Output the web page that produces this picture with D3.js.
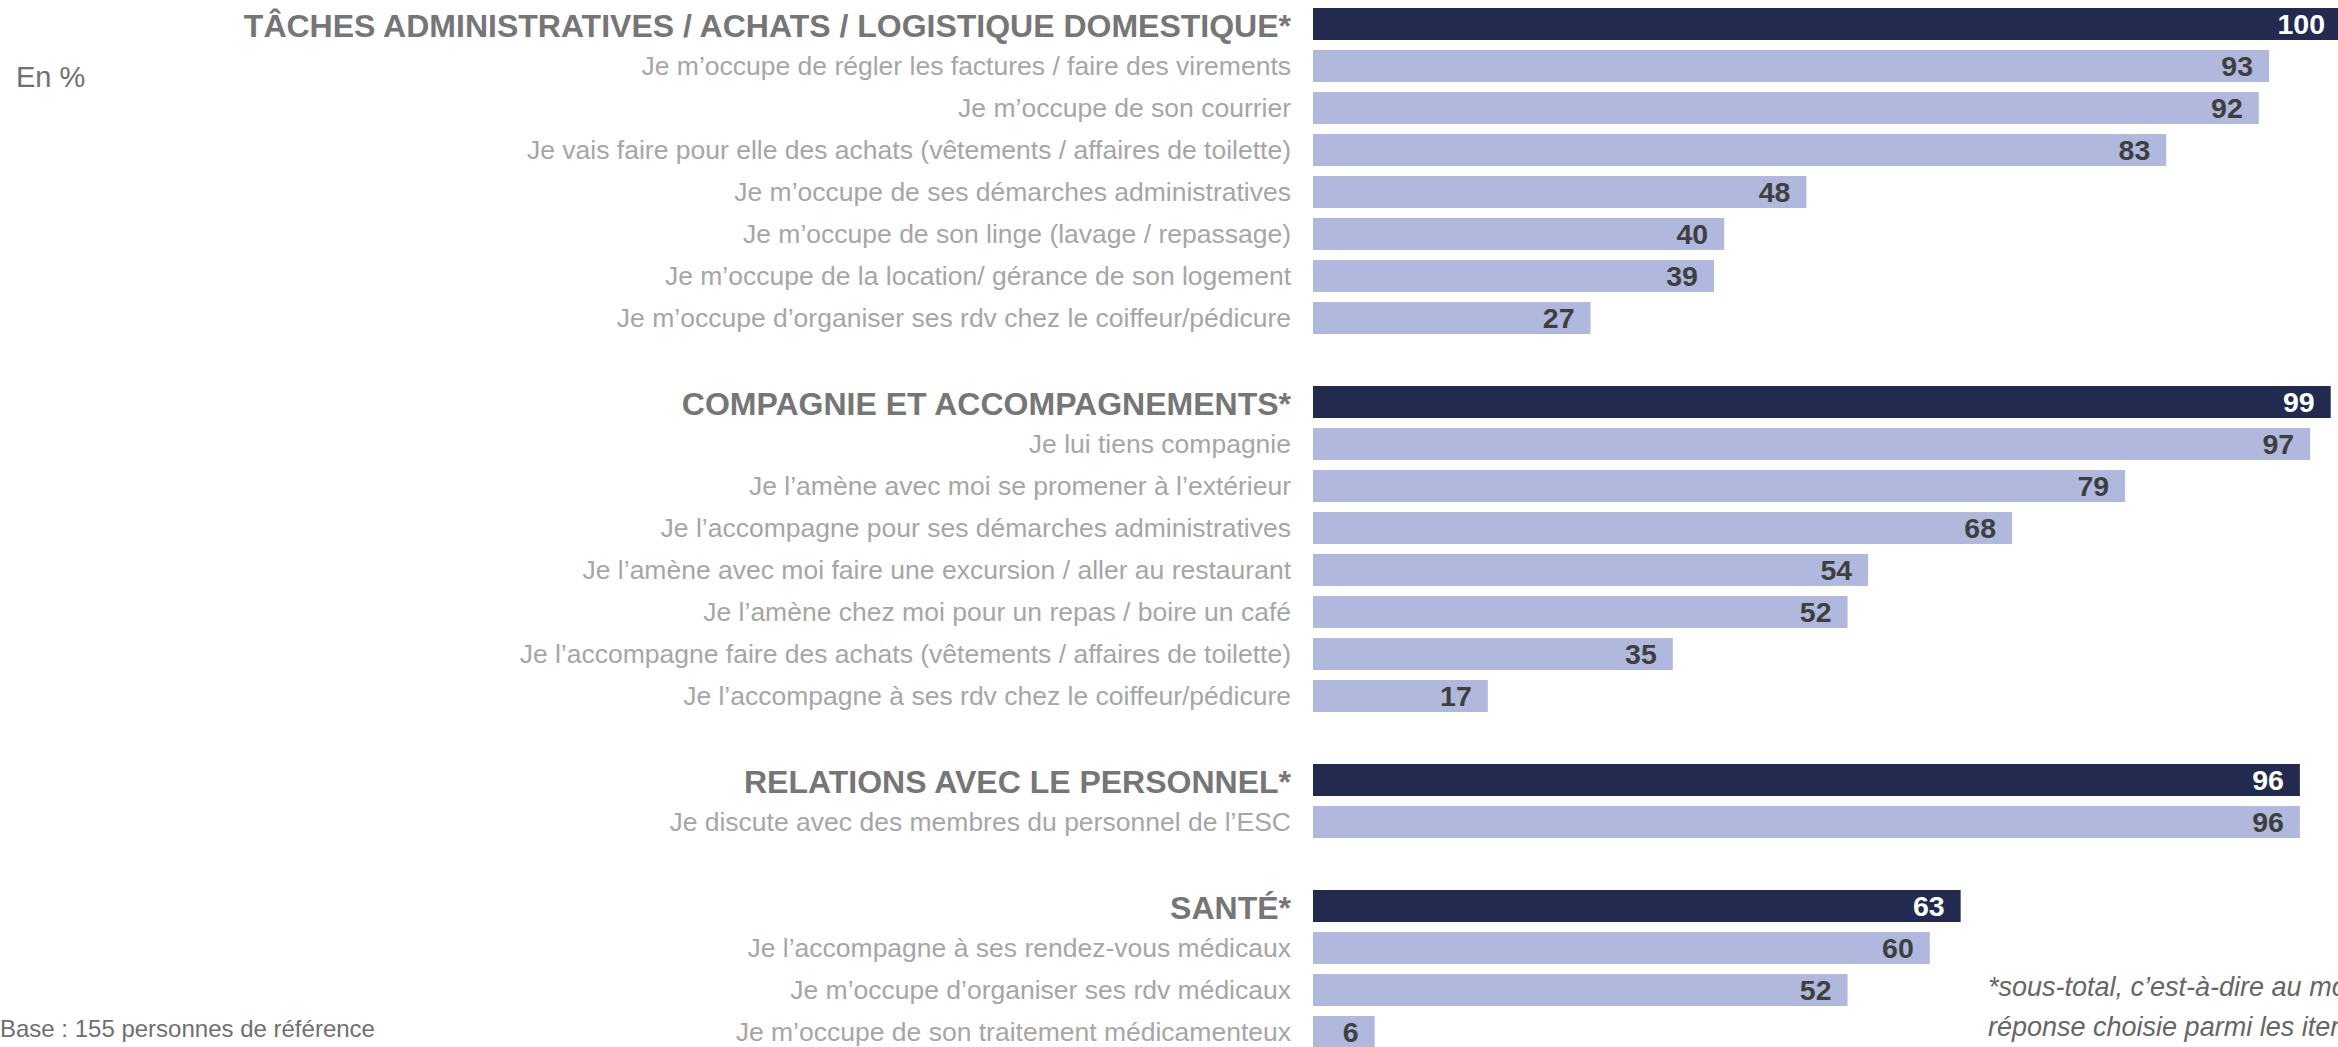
<!DOCTYPE html>
<html>
<head>
<meta charset="utf-8">
<script src="https://cdn.jsdelivr.net/npm/d3@7"></script>
<style>
  html, body { margin: 0; padding: 0; background: #fff; overflow: hidden; }
  text { font-family: "Liberation Sans", Arial, sans-serif; }
</style>
</head>
<body>
<svg id="chart"></svg>
<script>
// data
const groups = [
  "TÂCHES ADMINISTRATIVES / ACHATS / LOGISTIQUE DOMESTIQUE*",
  "COMPAGNIE ET ACCOMPAGNEMENTS*",
  "RELATIONS AVEC LE PERSONNEL*",
  "SANTÉ*"
];
const groupTotals = [100, 99, 96, 63];

const itemLabels = [
  [
    "Je m’occupe de régler les factures / faire des virements",
    "Je m’occupe de son courrier",
    "Je vais faire pour elle des achats (vêtements / affaires de toilette)",
    "Je m’occupe de ses démarches administratives",
    "Je m’occupe de son linge (lavage / repassage)",
    "Je m’occupe de la location/ gérance de son logement",
    "Je m’occupe d’organiser ses rdv chez le coiffeur/pédicure"
  ],
  [
    "Je lui tiens compagnie",
    "Je l’amène avec moi se promener à l’extérieur",
    "Je l’accompagne pour ses démarches administratives",
    "Je l’amène avec moi faire une excursion / aller au restaurant",
    "Je l’amène chez moi pour un repas / boire un café",
    "Je l’accompagne faire des achats (vêtements / affaires de toilette)",
    "Je l’accompagne à ses rdv chez le coiffeur/pédicure"
  ],
  [
    "Je discute avec des membres du personnel de l’ESC"
  ],
  [
    "Je l’accompagne à ses rendez-vous médicaux",
    "Je m’occupe d’organiser ses rdv médicaux",
    "Je m’occupe de son traitement médicamenteux"
  ]
];
const itemValues = [
  [93, 92, 83, 48, 40, 39, 27],
  [97, 79, 68, 54, 52, 35, 17],
  [96],
  [60, 52, 6]
];

const unitLabel = "En %";
const baseNote = "Base : 155 personnes de référence";
const footnote = ["*sous-total, c’est-à-dire au moins une", "réponse choisie parmi les items"];

// flatten into rows, blank row between groups
const rows = [];
groups.forEach((g, gi) => {
  if (gi > 0) rows.push({ key: "blank" + gi, blank: true });
  rows.push({ key: "g" + gi, label: g, value: groupTotals[gi], header: true });
  itemLabels[gi].forEach((l, i) => {
    rows.push({ key: "g" + gi + "i" + i, label: l, value: itemValues[gi][i], header: false });
  });
});

const width = 2338, height = 1047;
const svg = d3.select("#chart")
  .attr("width", width)
  .attr("height", height);

const x = d3.scaleLinear()
  .domain([0, 100])
  .range([1313, 2341]);

const y = d3.scaleBand()
  .domain(rows.map(d => d.key))
  .range([8, 1048])
  .paddingInner(0.238)
  .paddingOuter(0);

const data = rows.filter(d => !d.blank);

svg.selectAll(".bar")
  .data(data)
  .enter().append("rect")
  .attr("class", "bar")
  .attr("x", x(0))
  .attr("y", d => y(d.key))
  .attr("width", d => x(d.value) - x(0))
  .attr("height", y.bandwidth())
  .attr("fill", d => d.header ? "#222a50" : "#b0b8de");

svg.selectAll(".label")
  .data(data)
  .enter().append("text")
  .attr("class", "label")
  .attr("x", 1291)
  .attr("y", d => y(d.key) + y.bandwidth() / 2 + (d.header ? 2 : 0))
  .attr("dy", "0.35em")
  .attr("text-anchor", "end")
  .style("font-size", d => d.header ? "32px" : "26.5px")
  .style("font-weight", d => d.header ? "bold" : "normal")
  .style("fill", d => d.header ? "#767676" : "#a6a6a6")
  .text(d => d.label);

svg.selectAll(".value")
  .data(data)
  .enter().append("text")
  .attr("class", "value")
  .attr("x", d => x(d.value) - 16)
  .attr("y", d => y(d.key) + y.bandwidth() / 2)
  .attr("dy", "0.35em")
  .attr("text-anchor", "end")
  .style("font-size", "28.5px")
  .style("font-weight", "bold")
  .style("fill", d => d.header ? "#ffffff" : "#3f3f3f")
  .text(d => d.value);

svg.append("text")
  .attr("x", 16)
  .attr("y", 77)
  .attr("dy", "0.35em")
  .style("font-size", "29px")
  .style("fill", "#707070")
  .text(unitLabel);

svg.append("text")
  .attr("x", 0)
  .attr("y", 1029)
  .attr("dy", "0.35em")
  .style("font-size", "24px")
  .style("fill", "#6f6f6f")
  .text(baseNote);

svg.selectAll(".foot")
  .data(footnote)
  .enter().append("text")
  .attr("class", "foot")
  .attr("x", 1988)
  .attr("y", (d, i) => 987 + i * 40)
  .attr("dy", "0.35em")
  .style("font-size", "27px")
  .style("font-style", "italic")
  .style("fill", "#666666")
  .text(d => d);
</script>
</body>
</html>
